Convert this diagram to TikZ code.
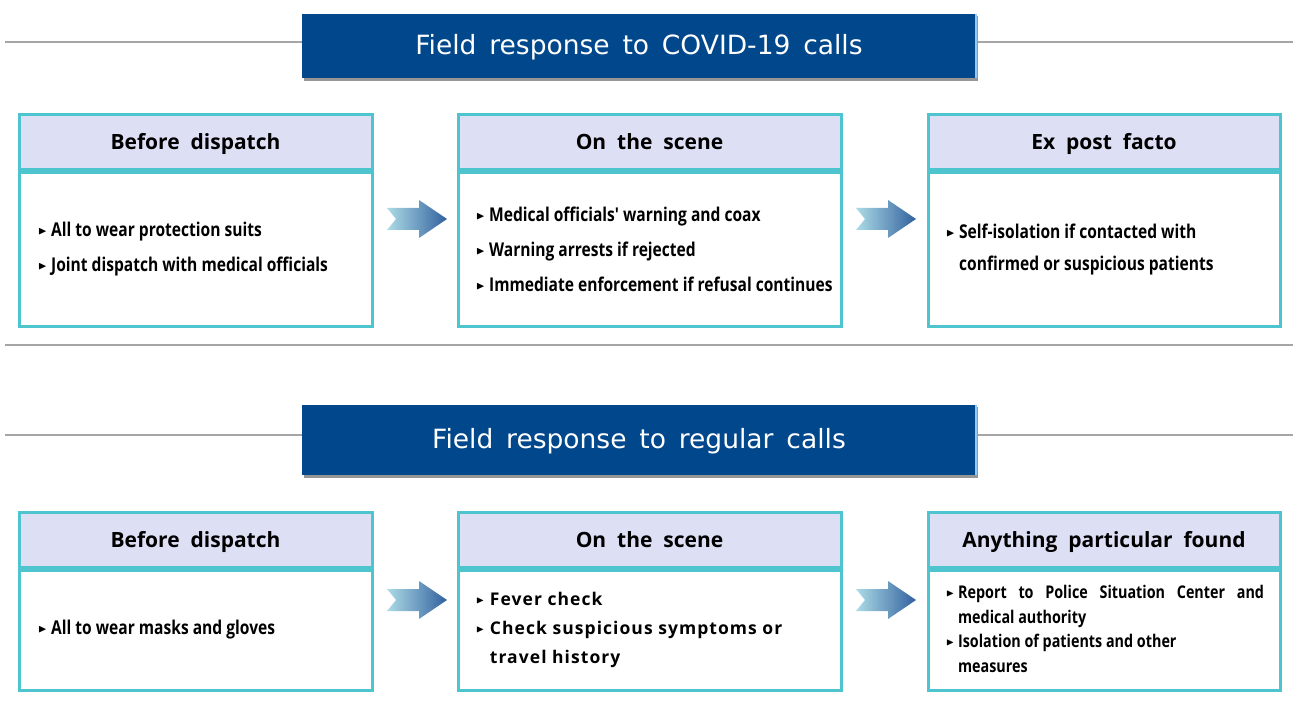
\documentclass[tikz,border=0pt]{standalone}
\usepackage{amssymb}
\usepackage{fontspec}
\setmainfont{DejaVu Sans}
\newfontfamily\titlefont{DejaVu Sans}
\newfontfamily\headfont{Open Sans}
\newfontfamily\bodyfont[FakeStretch=0.82]{Open Sans}
\newfontfamily\widefont[LetterSpace=6]{Open Sans}
\usetikzlibrary{calc}

\definecolor{bannerblue}{RGB}{0,71,139}
\definecolor{bannershadow}{RGB}{150,150,150}
\definecolor{bannerlight}{RGB}{150,200,245}
\definecolor{rulegray}{RGB}{165,165,165}
\definecolor{boxteal}{RGB}{78,196,206}
\definecolor{headlav}{RGB}{221,223,245}
\definecolor{arrowlight}{RGB}{172,220,230}
\definecolor{arrowdark}{RGB}{50,96,158}

\newcommand{\bul}{\raisebox{0.2ex}{\scalebox{0.6}{$\blacktriangleright$}}\ }

\begin{document}
\begin{tikzpicture}[
        x=1pt, y=-1pt,
        sepline/.style={draw=rulegray, line width=2.5pt},
        banner/.style={fill=bannerblue, text=white, font=\titlefont\fontsize{26.5}{30}\selectfont,
            minimum width=674pt, minimum height=64pt, inner sep=0pt, text height=19pt, text depth=2pt},
        hdr/.style={draw=boxteal, line width=3pt, fill=headlav, font=\headfont\bfseries\fontsize{21}{24}\selectfont,
            minimum height=55pt, inner sep=0pt, text height=16pt, text depth=1pt},
        bodybox/.style={draw=boxteal, line width=3pt, fill=white, inner sep=0pt},
        item_text/.style={anchor=west, align=left, inner sep=0pt, font=\bodyfont\bfseries\fontsize{19}{35}\selectfont},
        flowarrow/.style={left color=arrowlight, right color=arrowdark}
    ]
    \useasboundingbox (0,0) rectangle (1293,703);

    % --- COVID-19 calls ---
    \draw[sepline] (5,42) -- (1293,42);
    \fill[bannershadow] (304,16) rectangle (978,81);
    \node[banner] (ban1) at (639,46) {Field\, response\, to\, COVID-19\, calls};
    \draw[draw=bannerlight, line width=2pt] (ban1.north east) -- (ban1.south east);

    % Before dispatch
    \node[hdr, minimum width=353pt] (h11) at (195.5,142.5) {Before\ \ dispatch};
    \node[bodybox, minimum width=353pt, minimum height=153pt, anchor=north] (b11) at (h11.south) {};
    \node[item_text] (t11) at (38,249) {\bul All to wear protection suits\\\bul Joint dispatch with medical officials};

    % On the scene
    \node[hdr, minimum width=383pt] (h12) at (649.5,142.5) {On\ \ the\ \ scene};
    \node[bodybox, minimum width=383pt, minimum height=153pt, anchor=north] (b12) at (h12.south) {};
    \node[item_text] (t12) at (476,249) {\bul Medical officials' warning and coax\\\bul Warning arrests if rejected\\\bul Immediate enforcement if refusal continues};

    % Ex post facto
    \node[hdr, minimum width=352pt] (h13) at (1104,142.5) {Ex\ \ post\ \ facto};
    \node[bodybox, minimum width=352pt, minimum height=153pt, anchor=north] (b13) at (h13.south) {};
    \node[item_text, font=\bodyfont\bfseries\fontsize{19}{32}\selectfont] (t13) at (946,250) {\bul Self-isolation if contacted with\\\phantom{\bul}confirmed or suspicious patients};

    % Arrows
    \foreach \ax/\ay in {387/219, 856/219} {
        \shade[flowarrow] (\ax,\ay) ++(0,-11) -- ++(32,0) -- ++(0,-8) -- ++(28,19) -- ++(-28,19)
            -- ++(0,-8) -- ++(-32,0) -- ++(9,-11) -- cycle;
    }

    \draw[sepline] (5,345) -- (1293,345);

    % --- Regular calls ---
    \draw[sepline] (5,435) -- (1293,435);
    \fill[bannershadow] (304,407) rectangle (978,478);
    \node[banner, minimum height=70pt] (ban2) at (639,440) {Field\, response\, to\, regular\, calls};
    \draw[draw=bannerlight, line width=2pt] (ban2.north east) -- (ban2.south east);

    % Before dispatch
    \node[hdr, minimum width=353pt] (h21) at (195.5,539.5) {Before\ \ dispatch};
    \node[bodybox, minimum width=353pt, minimum height=120pt, anchor=north] (b21) at (h21.south) {};
    \node[item_text] (t21) at (38,630) {\bul All to wear masks and gloves};

    % On the scene
    \node[hdr, minimum width=383pt] (h22) at (649.5,539.5) {On\ \ the\ \ scene};
    \node[bodybox, minimum width=383pt, minimum height=120pt, anchor=north] (b22) at (h22.south) {};
    \node[item_text, font=\widefont\bfseries\fontsize{17.5}{29}\selectfont] (t22) at (476,630) {\bul Fever check\\\bul Check suspicious symptoms or\\\phantom{\bul}travel history};

    % Anything particular found
    \node[hdr, minimum width=352pt] (h23) at (1104,539.5) {Anything\ \ particular\ \ found};
    \node[bodybox, minimum width=352pt, minimum height=120pt, anchor=north] (b23) at (h23.south) {};
    \node[item_text, font=\bodyfont\bfseries\fontsize{17.5}{24.5}\selectfont] (t23) at (946,629) {\bul \makebox[306pt][s]{Report to Police Situation Center and}\\\phantom{\bul}medical authority\\\bul Isolation of patients and other\\\phantom{\bul}measures};

    % Arrows
    \foreach \ax/\ay in {387/600, 856/600} {
        \shade[flowarrow] (\ax,\ay) ++(0,-11) -- ++(32,0) -- ++(0,-8) -- ++(28,19) -- ++(-28,19)
            -- ++(0,-8) -- ++(-32,0) -- ++(9,-11) -- cycle;
    }

\end{tikzpicture}
\end{document}
